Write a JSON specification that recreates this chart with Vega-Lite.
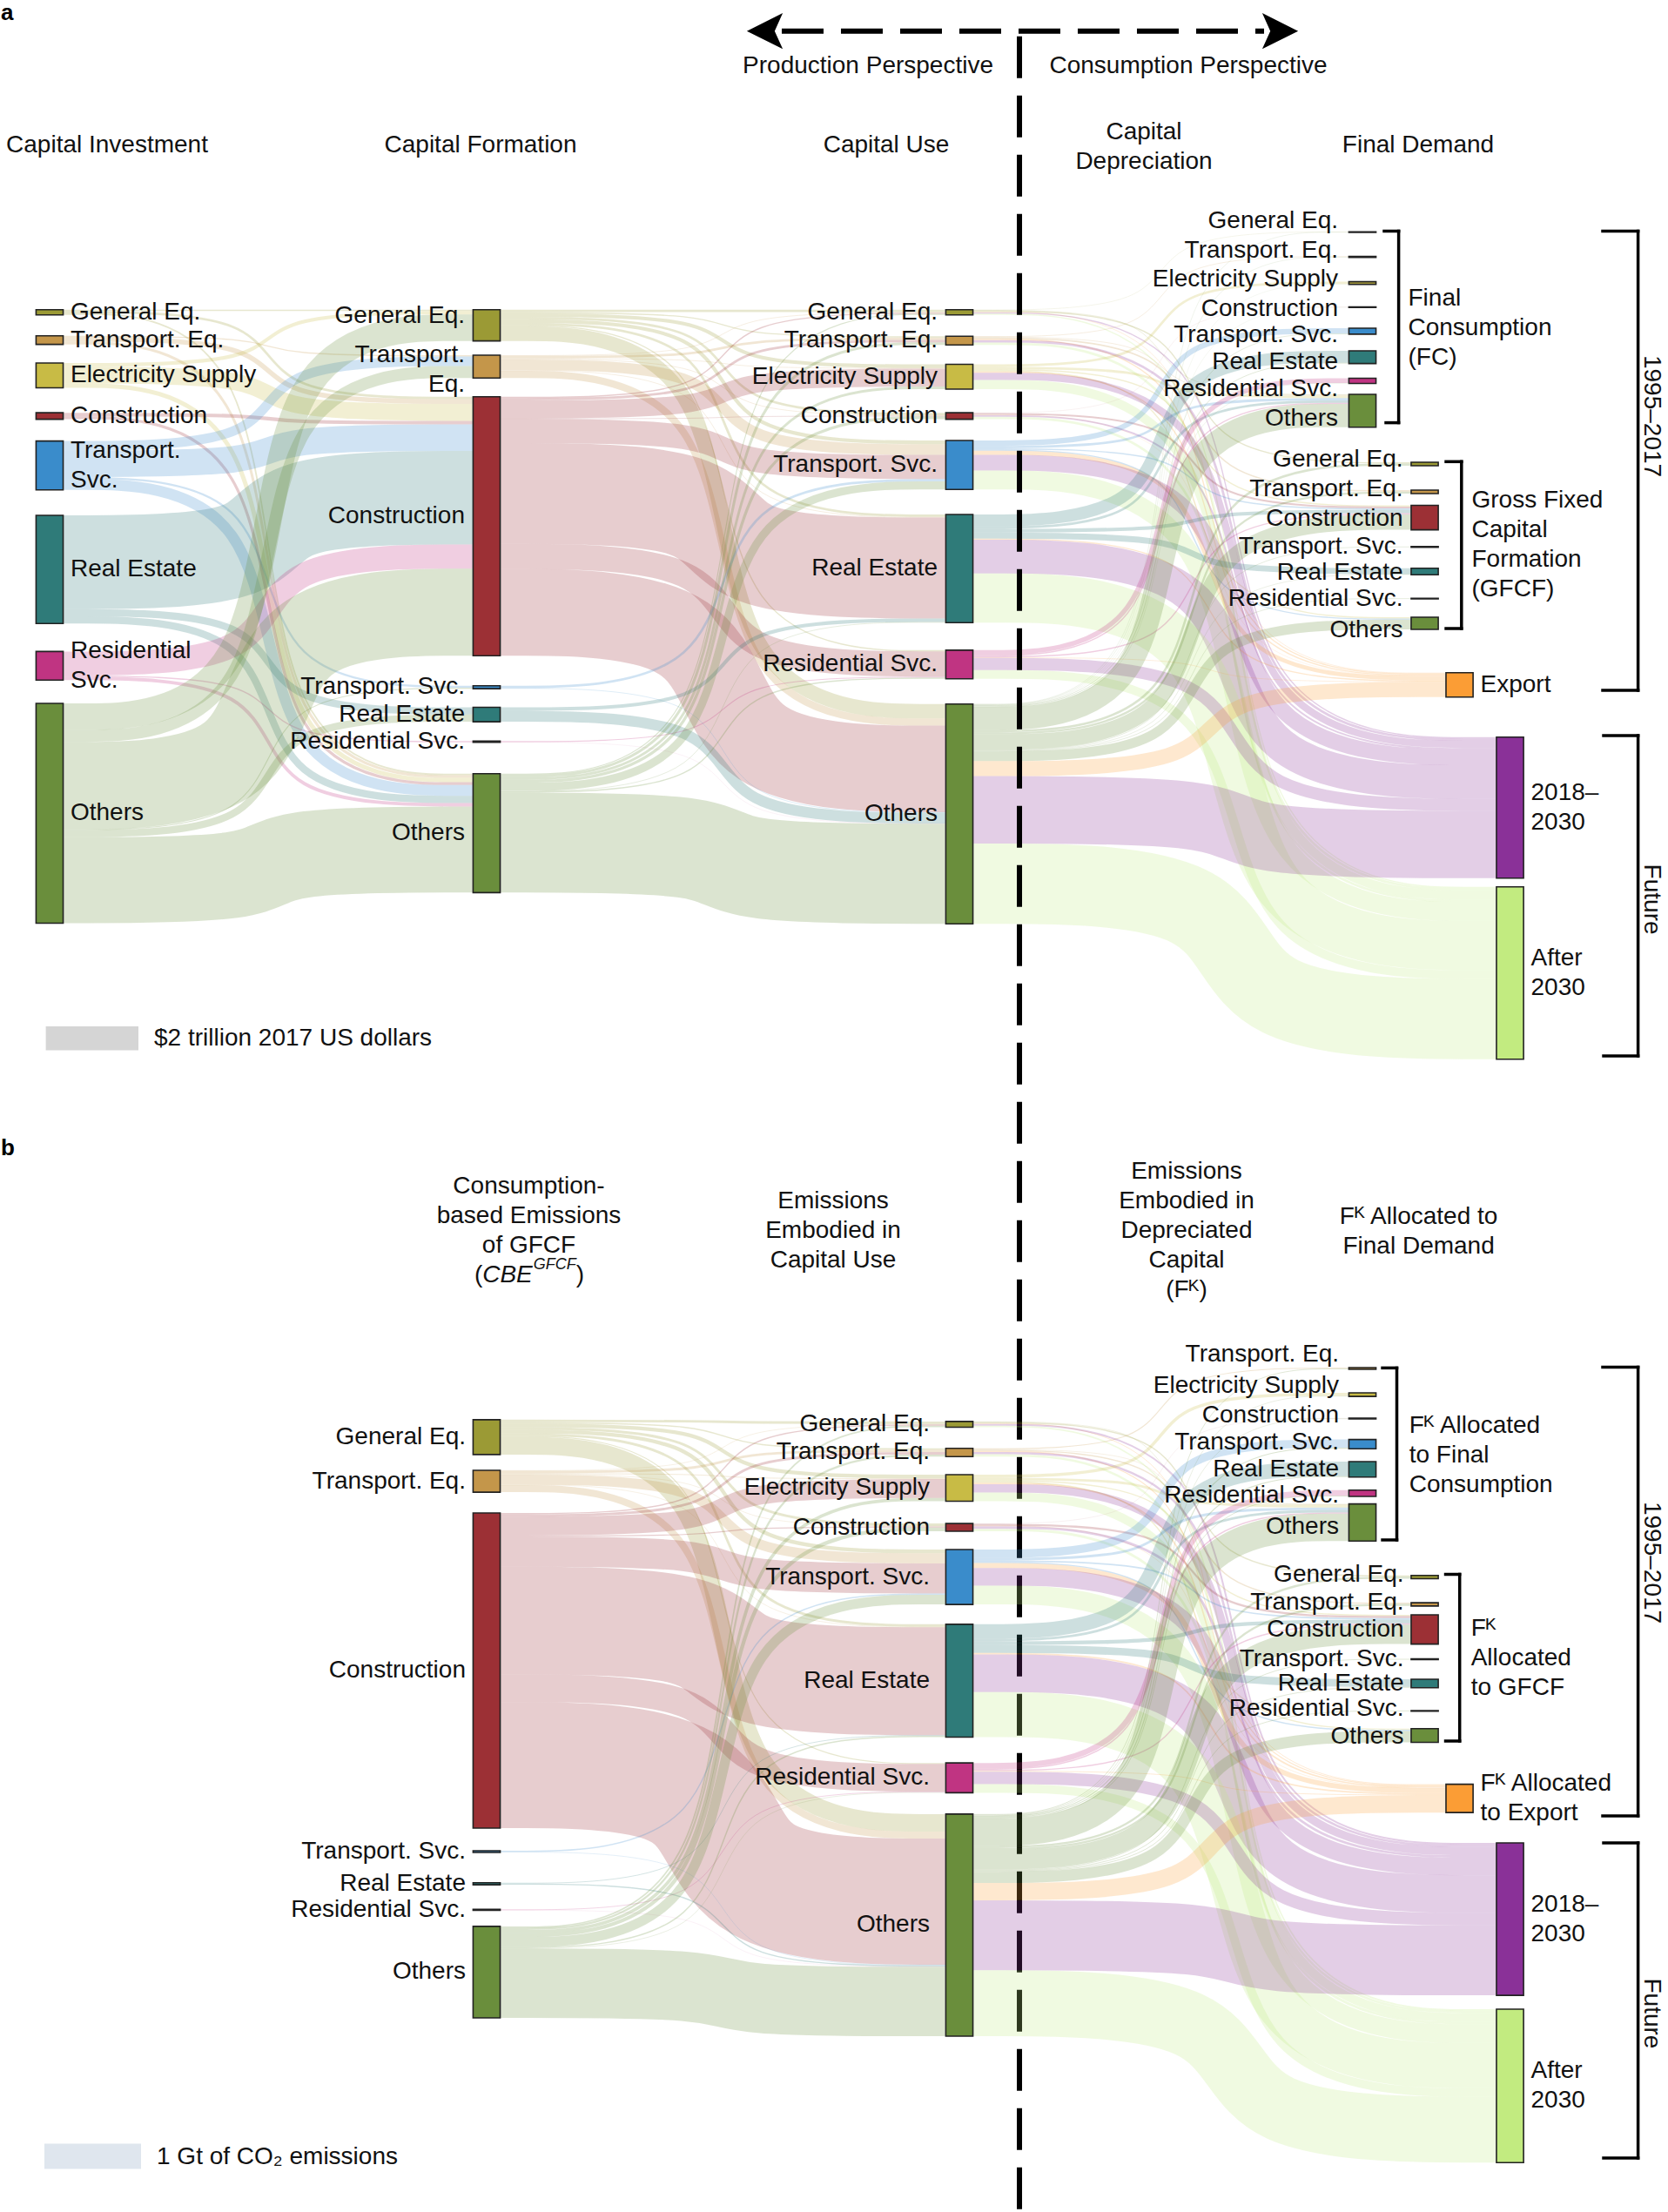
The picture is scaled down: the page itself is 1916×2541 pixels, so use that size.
{
"$schema":"https://vega.github.io/schema/vega-lite/v6.json",
"width":1916,"height":2541,"padding":0,"autosize":{"type":"none"},"background":"white",
"config":{"view":{"stroke":null},"text":{"font":"Liberation Sans","color":"#111111"}},
"datasets":{
"nodesA":[
{"id":"a1GE","col":"1","cat":"General Eq.","label":"General Eq.","x":0,"y0":25.78,"v":0.43},
{"id":"a1TE","col":"1","cat":"Transport. Eq.","label":"Transport. Eq.","x":0,"y0":27.95,"v":0.72},
{"id":"a1ES","col":"1","cat":"Electricity Supply","label":"Electricity Supply","x":0,"y0":30.22,"v":2.06},
{"id":"a1CO","col":"1","cat":"Construction","label":"Construction","x":0,"y0":34.36,"v":0.54},
{"id":"a1TS","col":"1","cat":"Transport. Svc.","label":"Transport.\nSvc.","x":0,"y0":36.71,"v":4.07},
{"id":"a1RE","col":"1","cat":"Real Estate","label":"Real Estate","x":0,"y0":42.9,"v":9.0},
{"id":"a1RS","col":"1","cat":"Residential Svc.","label":"Residential\nSvc.","x":0,"y0":54.23,"v":2.38},
{"id":"a1OT","col":"1","cat":"Others","label":"Others","x":0,"y0":58.55,"v":18.3},
{"id":"a2GE","col":"2","cat":"General Eq.","label":"General Eq.","x":1,"y0":25.78,"v":2.6,"ly":26.3},
{"id":"a2TE","col":"2","cat":"Transport. Eq.","label":"Transport.\nEq.","x":1,"y0":29.57,"v":1.9,"ly":30.8},
{"id":"a2CO","col":"2","cat":"Construction","label":"Construction","x":1,"y0":33.03,"v":21.55,"ly":42.96},
{"id":"a2TS","col":"2","cat":"Transport. Svc.","label":"Transport. Svc.","x":1,"y0":57.08,"v":0.25},
{"id":"a2RE","col":"2","cat":"Real Estate","label":"Real Estate","x":1,"y0":58.88,"v":1.2},
{"id":"a2RS","col":"2","cat":"Residential Svc.","label":"Residential Svc.","x":1,"y0":61.69,"v":0.1},
{"id":"a2OT","col":"2","cat":"Others","label":"Others","x":1,"y0":64.4,"v":9.9},
{"id":"a3GE","col":"3","cat":"General Eq.","label":"General Eq.","x":2.0817,"y0":25.78,"v":0.43},
{"id":"a3TE","col":"3","cat":"Transport. Eq.","label":"Transport. Eq.","x":2.0817,"y0":27.99,"v":0.72},
{"id":"a3ES","col":"3","cat":"Electricity Supply","label":"Electricity Supply","x":2.0817,"y0":30.33,"v":2.06},
{"id":"a3CO","col":"3","cat":"Construction","label":"Construction","x":2.0817,"y0":34.36,"v":0.54},
{"id":"a3TS","col":"3","cat":"Transport. Svc.","label":"Transport. Svc.","x":2.0817,"y0":36.67,"v":4.07},
{"id":"a3RE","col":"3","cat":"Real Estate","label":"Real Estate","x":2.0817,"y0":42.83,"v":9.0},
{"id":"a3RS","col":"3","cat":"Residential Svc.","label":"Residential Svc.","x":2.0817,"y0":54.12,"v":2.38},
{"id":"a3OT","col":"3","cat":"Others","label":"Others","x":2.0817,"y0":58.6,"v":18.3},
{"id":"a4fGE","col":"fc","cat":"General Eq.","label":"General Eq.","x":3.004,"y0":19.29,"v":0.06,"ly":18.41},
{"id":"a4fTE","col":"fc","cat":"Transport. Eq.","label":"Transport. Eq.","x":3.004,"y0":21.34,"v":0.08,"ly":20.87},
{"id":"a4fES","col":"fc","cat":"Electricity Supply","label":"Electricity Supply","x":3.004,"y0":23.45,"v":0.22,"ly":23.26},
{"id":"a4fCO","col":"fc","cat":"Construction","label":"Construction","x":3.004,"y0":25.55,"v":0.04,"ly":25.72},
{"id":"a4fTS","col":"fc","cat":"Transport. Svc.","label":"Transport. Svc.","x":3.004,"y0":27.32,"v":0.5,"ly":27.9},
{"id":"a4fRE","col":"fc","cat":"Real Estate","label":"Real Estate","x":3.004,"y0":29.2,"v":1.06,"ly":30.14},
{"id":"a4fRS","col":"fc","cat":"Residential Svc.","label":"Residential Svc.","x":3.004,"y0":31.49,"v":0.43,"ly":32.39},
{"id":"a4fOT","col":"fc","cat":"Others","label":"Others","x":3.004,"y0":32.83,"v":2.73,"ly":34.86},
{"id":"a4gGE","col":"gf","cat":"General Eq.","label":"General Eq.","x":3.1465,"y0":38.48,"v":0.29,"ly":38.26},
{"id":"a4gTE","col":"gf","cat":"Transport. Eq.","label":"Transport. Eq.","x":3.1465,"y0":40.8,"v":0.29,"ly":40.72},
{"id":"a4gCO","col":"gf","cat":"Construction","label":"Construction","x":3.1465,"y0":42.07,"v":2.03,"ly":43.19},
{"id":"a4gTS","col":"gf","cat":"Transport. Svc.","label":"Transport. Svc.","x":3.1465,"y0":45.5,"v":0.05,"ly":45.51},
{"id":"a4gRE","col":"gf","cat":"Real Estate","label":"Real Estate","x":3.1465,"y0":47.3,"v":0.54,"ly":47.68},
{"id":"a4gRS","col":"gf","cat":"Residential Svc.","label":"Residential Svc.","x":3.1465,"y0":49.8,"v":0.05,"ly":49.86},
{"id":"a4gOT","col":"gf","cat":"Others","label":"Others","x":3.1465,"y0":51.38,"v":1.01,"ly":52.46},
{"id":"a4EX","col":"ex","cat":"Export","label":"Export","x":3.2262,"y0":56.0,"v":2.03},
{"id":"a4F1","col":"fu","cat":"2018–2030","label":"2018–\n2030","x":3.3417,"y0":61.36,"v":11.74},
{"id":"a4F2","col":"fu","cat":"After 2030","label":"After\n2030","x":3.3417,"y0":73.82,"v":14.35}
],
"flowsA":[
{"s":"a1GE","t":"a2GE","v":0.1},{"s":"a1GE","t":"a2CO","v":0.2},{"s":"a1GE","t":"a2OT","v":0.13},
{"s":"a1TE","t":"a2TE","v":0.1},{"s":"a1TE","t":"a2CO","v":0.4},{"s":"a1TE","t":"a2OT","v":0.22},
{"s":"a1ES","t":"a2GE","v":0.3},{"s":"a1ES","t":"a2CO","v":1.4},{"s":"a1ES","t":"a2OT","v":0.36},
{"s":"a1CO","t":"a2CO","v":0.3},{"s":"a1CO","t":"a2OT","v":0.24},
{"s":"a1TS","t":"a2TE","v":0.8},{"s":"a1TS","t":"a2CO","v":2.2},{"s":"a1TS","t":"a2TS","v":0.17},{"s":"a1TS","t":"a2OT","v":0.9},
{"s":"a1RE","t":"a2CO","v":7.8},{"s":"a1RE","t":"a2RE","v":0.6},{"s":"a1RE","t":"a2OT","v":0.6},
{"s":"a1RS","t":"a2CO","v":2.0},{"s":"a1RS","t":"a2RS","v":0.1},{"s":"a1RS","t":"a2OT","v":0.28},
{"s":"a1OT","t":"a2GE","v":2.2},{"s":"a1OT","t":"a2TE","v":1.0},{"s":"a1OT","t":"a2CO","v":7.25},{"s":"a1OT","t":"a2TS","v":0.08},{"s":"a1OT","t":"a2RE","v":0.6},{"s":"a1OT","t":"a2OT","v":7.17},
{"s":"a2GE","t":"a3GE","v":0.2},{"s":"a2GE","t":"a3TE","v":0.1},{"s":"a2GE","t":"a3ES","v":0.3},{"s":"a2GE","t":"a3CO","v":0.2},{"s":"a2GE","t":"a3TS","v":0.3},{"s":"a2GE","t":"a3RE","v":0.2},{"s":"a2GE","t":"a3RS","v":0.1},{"s":"a2GE","t":"a3OT","v":1.2},
{"s":"a2TE","t":"a3GE","v":0.05},{"s":"a2TE","t":"a3TE","v":0.2},{"s":"a2TE","t":"a3ES","v":0.05},{"s":"a2TE","t":"a3CO","v":0.05},{"s":"a2TE","t":"a3TS","v":0.9},{"s":"a2TE","t":"a3RE","v":0.05},{"s":"a2TE","t":"a3OT","v":0.6},
{"s":"a2CO","t":"a3GE","v":0.1},{"s":"a2CO","t":"a3TE","v":0.2},{"s":"a2CO","t":"a3ES","v":1.5},{"s":"a2CO","t":"a3CO","v":0.05},{"s":"a2CO","t":"a3TS","v":2.0},{"s":"a2CO","t":"a3RE","v":8.4},{"s":"a2CO","t":"a3RS","v":2.1},{"s":"a2CO","t":"a3OT","v":7.2},
{"s":"a2TS","t":"a3TS","v":0.2},{"s":"a2TS","t":"a3OT","v":0.05},
{"s":"a2RE","t":"a3RE","v":0.3},{"s":"a2RE","t":"a3OT","v":0.9},
{"s":"a2RS","t":"a3RS","v":0.08},{"s":"a2RS","t":"a3OT","v":0.02},
{"s":"a2OT","t":"a3GE","v":0.08},{"s":"a2OT","t":"a3TE","v":0.22},{"s":"a2OT","t":"a3ES","v":0.21},{"s":"a2OT","t":"a3CO","v":0.24},{"s":"a2OT","t":"a3TS","v":0.67},{"s":"a2OT","t":"a3RE","v":0.05},{"s":"a2OT","t":"a3RS","v":0.1},{"s":"a2OT","t":"a3OT","v":8.33},
{"s":"a3GE","t":"a4fGE","v":0.03},{"s":"a3GE","t":"a4gGE","v":0.1},{"s":"a3GE","t":"a4fOT","v":0.05},{"s":"a3GE","t":"a4EX","v":0.05},{"s":"a3GE","t":"a4F1","v":0.1},{"s":"a3GE","t":"a4F2","v":0.1},
{"s":"a3TE","t":"a4fTE","v":0.05},{"s":"a3TE","t":"a4gTE","v":0.12},{"s":"a3TE","t":"a4fOT","v":0.05},{"s":"a3TE","t":"a4EX","v":0.1},{"s":"a3TE","t":"a4F1","v":0.2},{"s":"a3TE","t":"a4F2","v":0.2},
{"s":"a3ES","t":"a4fES","v":0.2},{"s":"a3ES","t":"a4fOT","v":0.2},{"s":"a3ES","t":"a4gOT","v":0.1},{"s":"a3ES","t":"a4EX","v":0.1},{"s":"a3ES","t":"a4gCO","v":0.1},{"s":"a3ES","t":"a4F1","v":0.6},{"s":"a3ES","t":"a4F2","v":0.76},
{"s":"a3CO","t":"a4gCO","v":0.15},{"s":"a3CO","t":"a4fCO","v":0.02},{"s":"a3CO","t":"a4EX","v":0.03},{"s":"a3CO","t":"a4F1","v":0.14},{"s":"a3CO","t":"a4F2","v":0.2},
{"s":"a3TS","t":"a4fTS","v":0.45},{"s":"a3TS","t":"a4fOT","v":0.2},{"s":"a3TS","t":"a4gOT","v":0.1},{"s":"a3TS","t":"a4EX","v":0.35},{"s":"a3TS","t":"a4gCO","v":0.1},{"s":"a3TS","t":"a4F1","v":1.3},{"s":"a3TS","t":"a4F2","v":1.57},
{"s":"a3RE","t":"a4fRE","v":1.0},{"s":"a3RE","t":"a4fOT","v":0.2},{"s":"a3RE","t":"a4gRE","v":0.5},{"s":"a3RE","t":"a4gCO","v":0.3},{"s":"a3RE","t":"a4EX","v":0.1},{"s":"a3RE","t":"a4F1","v":2.8},{"s":"a3RE","t":"a4F2","v":4.1},
{"s":"a3RS","t":"a4fRS","v":0.4},{"s":"a3RS","t":"a4fOT","v":0.1},{"s":"a3RS","t":"a4gCO","v":0.1},{"s":"a3RS","t":"a4EX","v":0.05},{"s":"a3RS","t":"a4F1","v":1.0},{"s":"a3RS","t":"a4F2","v":0.73},
{"s":"a3OT","t":"a4fGE","v":0.03},{"s":"a3OT","t":"a4fTE","v":0.03},{"s":"a3OT","t":"a4fES","v":0.02},{"s":"a3OT","t":"a4fCO","v":0.02},{"s":"a3OT","t":"a4fTS","v":0.05},{"s":"a3OT","t":"a4fRE","v":0.06},{"s":"a3OT","t":"a4fRS","v":0.03},{"s":"a3OT","t":"a4fOT","v":1.93},
{"s":"a3OT","t":"a4gGE","v":0.19},{"s":"a3OT","t":"a4gTE","v":0.17},{"s":"a3OT","t":"a4gCO","v":1.28},{"s":"a3OT","t":"a4gTS","v":0.05},{"s":"a3OT","t":"a4gRE","v":0.04},{"s":"a3OT","t":"a4gRS","v":0.05},{"s":"a3OT","t":"a4gOT","v":0.81},
{"s":"a3OT","t":"a4EX","v":1.25},{"s":"a3OT","t":"a4F1","v":5.6},{"s":"a3OT","t":"a4F2","v":6.69}
],
"nodesB":[
{"id":"b2GE","col":"2","cat":"General Eq.","label":"General Eq.","x":1,"y0":12.53,"v":1.39},
{"id":"b2TE","col":"2","cat":"Transport. Eq.","label":"Transport. Eq.","x":1,"y0":14.55,"v":0.87},
{"id":"b2CO","col":"2","cat":"Construction","label":"Construction","x":1,"y0":16.25,"v":12.57},
{"id":"b2TS","col":"2","cat":"Transport. Svc.","label":"Transport. Svc.","x":1,"y0":29.72,"v":0.07},
{"id":"b2RE","col":"2","cat":"Real Estate","label":"Real Estate","x":1,"y0":31.0,"v":0.08},
{"id":"b2RS","col":"2","cat":"Residential Svc.","label":"Residential Svc.","x":1,"y0":32.06,"v":0.04},
{"id":"b2OT","col":"2","cat":"Others","label":"Others","x":1,"y0":32.74,"v":3.65},
{"id":"b3GE","col":"3","cat":"General Eq.","label":"General Eq.","x":2.0817,"y0":12.6,"v":0.23},
{"id":"b3TE","col":"3","cat":"Transport. Eq.","label":"Transport. Eq.","x":2.0817,"y0":13.67,"v":0.33},
{"id":"b3ES","col":"3","cat":"Electricity Supply","label":"Electricity Supply","x":2.0817,"y0":14.72,"v":1.06},
{"id":"b3CO","col":"3","cat":"Construction","label":"Construction","x":2.0817,"y0":16.67,"v":0.31},
{"id":"b3TS","col":"3","cat":"Transport. Svc.","label":"Transport. Svc.","x":2.0817,"y0":17.71,"v":2.19},
{"id":"b3RE","col":"3","cat":"Real Estate","label":"Real Estate","x":2.0817,"y0":20.69,"v":4.5},
{"id":"b3RS","col":"3","cat":"Residential Svc.","label":"Residential Svc.","x":2.0817,"y0":26.22,"v":1.19},
{"id":"b3OT","col":"3","cat":"Others","label":"Others","x":2.0817,"y0":28.26,"v":8.86},
{"id":"b4fTE","col":"fc","cat":"Transport. Eq.","label":"Transport. Eq.","x":3.004,"y0":10.45,"v":0.07,"ly":9.93},
{"id":"b4fES","col":"fc","cat":"Electricity Supply","label":"Electricity Supply","x":3.004,"y0":11.46,"v":0.14,"ly":11.18},
{"id":"b4fCO","col":"fc","cat":"Construction","label":"Construction","x":3.004,"y0":12.47,"v":0.03,"ly":12.36},
{"id":"b4fTS","col":"fc","cat":"Transport. Svc.","label":"Transport. Svc.","x":3.004,"y0":13.32,"v":0.37,"ly":13.44},
{"id":"b4fRE","col":"fc","cat":"Real Estate","label":"Real Estate","x":3.004,"y0":14.2,"v":0.62,"ly":14.51},
{"id":"b4fRS","col":"fc","cat":"Residential Svc.","label":"Residential Svc.","x":3.004,"y0":15.34,"v":0.25,"ly":15.56},
{"id":"b4fOT","col":"fc","cat":"Others","label":"Others","x":3.004,"y0":15.89,"v":1.48,"ly":16.81},
{"id":"b4gGE","col":"gf","cat":"General Eq.","label":"General Eq.","x":3.1465,"y0":18.74,"v":0.13,"ly":18.72},
{"id":"b4gTE","col":"gf","cat":"Transport. Eq.","label":"Transport. Eq.","x":3.1465,"y0":19.83,"v":0.13,"ly":19.84},
{"id":"b4gCO","col":"gf","cat":"Construction","label":"Construction","x":3.1465,"y0":20.31,"v":1.17,"ly":20.9},
{"id":"b4gTS","col":"gf","cat":"Transport. Svc.","label":"Transport. Svc.","x":3.1465,"y0":22.07,"v":0.03,"ly":22.08},
{"id":"b4gRE","col":"gf","cat":"Real Estate","label":"Real Estate","x":3.1465,"y0":22.88,"v":0.34,"ly":23.06},
{"id":"b4gRS","col":"gf","cat":"Residential Svc.","label":"Residential Svc.","x":3.1465,"y0":24.13,"v":0.03,"ly":24.06},
{"id":"b4gOT","col":"gf","cat":"Others","label":"Others","x":3.1465,"y0":24.85,"v":0.55,"ly":25.17},
{"id":"b4EX","col":"ex","cat":"Export","label":"Fᴷ Allocated\nto Export","x":3.2262,"y0":27.07,"v":1.13},
{"id":"b4F1","col":"fu","cat":"2018–2030","label":"2018–\n2030","x":3.3417,"y0":29.41,"v":6.08},
{"id":"b4F2","col":"fu","cat":"After 2030","label":"After\n2030","x":3.3417,"y0":36.04,"v":6.12}
],
"flowsB":[
{"s":"b2GE","t":"b3GE","v":0.1},{"s":"b2GE","t":"b3TE","v":0.05},{"s":"b2GE","t":"b3ES","v":0.15},{"s":"b2GE","t":"b3CO","v":0.1},{"s":"b2GE","t":"b3TS","v":0.15},{"s":"b2GE","t":"b3RE","v":0.1},{"s":"b2GE","t":"b3RS","v":0.04},{"s":"b2GE","t":"b3OT","v":0.7},
{"s":"b2TE","t":"b3GE","v":0.02},{"s":"b2TE","t":"b3TE","v":0.1},{"s":"b2TE","t":"b3ES","v":0.03},{"s":"b2TE","t":"b3CO","v":0.02},{"s":"b2TE","t":"b3TS","v":0.4},{"s":"b2TE","t":"b3RE","v":0.02},{"s":"b2TE","t":"b3OT","v":0.28},
{"s":"b2CO","t":"b3GE","v":0.05},{"s":"b2CO","t":"b3TE","v":0.1},{"s":"b2CO","t":"b3ES","v":0.75},{"s":"b2CO","t":"b3CO","v":0.04},{"s":"b2CO","t":"b3TS","v":1.2},{"s":"b2CO","t":"b3RE","v":4.3},{"s":"b2CO","t":"b3RS","v":1.1},{"s":"b2CO","t":"b3OT","v":5.03},
{"s":"b2TS","t":"b3TS","v":0.05},{"s":"b2TS","t":"b3OT","v":0.02},
{"s":"b2RE","t":"b3RE","v":0.03},{"s":"b2RE","t":"b3OT","v":0.05},
{"s":"b2RS","t":"b3RS","v":0.03},{"s":"b2RS","t":"b3OT","v":0.01},
{"s":"b2OT","t":"b3GE","v":0.06},{"s":"b2OT","t":"b3TE","v":0.08},{"s":"b2OT","t":"b3ES","v":0.13},{"s":"b2OT","t":"b3CO","v":0.15},{"s":"b2OT","t":"b3TS","v":0.39},{"s":"b2OT","t":"b3RE","v":0.05},{"s":"b2OT","t":"b3RS","v":0.02},{"s":"b2OT","t":"b3OT","v":2.77},
{"s":"b3GE","t":"b4gGE","v":0.05},{"s":"b3GE","t":"b4fOT","v":0.02},{"s":"b3GE","t":"b4EX","v":0.03},{"s":"b3GE","t":"b4F1","v":0.07},{"s":"b3GE","t":"b4F2","v":0.06},
{"s":"b3TE","t":"b4fTE","v":0.04},{"s":"b3TE","t":"b4gTE","v":0.05},{"s":"b3TE","t":"b4fOT","v":0.02},{"s":"b3TE","t":"b4EX","v":0.04},{"s":"b3TE","t":"b4F1","v":0.09},{"s":"b3TE","t":"b4F2","v":0.09},
{"s":"b3ES","t":"b4fES","v":0.12},{"s":"b3ES","t":"b4fOT","v":0.1},{"s":"b3ES","t":"b4gOT","v":0.05},{"s":"b3ES","t":"b4gCO","v":0.05},{"s":"b3ES","t":"b4EX","v":0.06},{"s":"b3ES","t":"b4F1","v":0.33},{"s":"b3ES","t":"b4F2","v":0.35},
{"s":"b3CO","t":"b4gCO","v":0.08},{"s":"b3CO","t":"b4fCO","v":0.01},{"s":"b3CO","t":"b4EX","v":0.02},{"s":"b3CO","t":"b4F1","v":0.1},{"s":"b3CO","t":"b4F2","v":0.1},
{"s":"b3TS","t":"b4fTS","v":0.33},{"s":"b3TS","t":"b4fOT","v":0.1},{"s":"b3TS","t":"b4gOT","v":0.05},{"s":"b3TS","t":"b4gCO","v":0.06},{"s":"b3TS","t":"b4EX","v":0.2},{"s":"b3TS","t":"b4F1","v":0.7},{"s":"b3TS","t":"b4F2","v":0.75},
{"s":"b3RE","t":"b4fRE","v":0.58},{"s":"b3RE","t":"b4fOT","v":0.1},{"s":"b3RE","t":"b4gRE","v":0.31},{"s":"b3RE","t":"b4gCO","v":0.15},{"s":"b3RE","t":"b4EX","v":0.06},{"s":"b3RE","t":"b4F1","v":1.5},{"s":"b3RE","t":"b4F2","v":1.8},
{"s":"b3RS","t":"b4fRS","v":0.22},{"s":"b3RS","t":"b4fOT","v":0.05},{"s":"b3RS","t":"b4gCO","v":0.05},{"s":"b3RS","t":"b4EX","v":0.03},{"s":"b3RS","t":"b4F1","v":0.5},{"s":"b3RS","t":"b4F2","v":0.34},
{"s":"b3OT","t":"b4fTE","v":0.03},{"s":"b3OT","t":"b4fES","v":0.02},{"s":"b3OT","t":"b4fCO","v":0.02},{"s":"b3OT","t":"b4fTS","v":0.04},{"s":"b3OT","t":"b4fRE","v":0.04},{"s":"b3OT","t":"b4fRS","v":0.03},{"s":"b3OT","t":"b4fOT","v":1.09},
{"s":"b3OT","t":"b4gGE","v":0.08},{"s":"b3OT","t":"b4gTE","v":0.08},{"s":"b3OT","t":"b4gCO","v":0.78},{"s":"b3OT","t":"b4gTS","v":0.03},{"s":"b3OT","t":"b4gRE","v":0.03},{"s":"b3OT","t":"b4gRS","v":0.03},{"s":"b3OT","t":"b4gOT","v":0.45},
{"s":"b3OT","t":"b4EX","v":0.69},{"s":"b3OT","t":"b4F1","v":2.79},{"s":"b3OT","t":"b4F2","v":2.63}
],
"annA":[
{"t":"Capital Investment","x":0.1315,"y":12.1,"k":"c"},
{"t":"Capital Formation","x":0.9861,"y":12.1,"k":"c"},
{"t":"Capital Use","x":1.9144,"y":12.1,"k":"c"},
{"t":"Capital\nDepreciation","x":2.504,"y":11.01,"k":"c"},
{"t":"Final Demand","x":3.1315,"y":12.1,"k":"c"},
{"t":"Production Perspective","x":1.8726,"y":5.507,"k":"c"},
{"t":"Consumption Perspective","x":2.6056,"y":5.507,"k":"c"},
{"t":"Final\nConsumption\n(FC)","x":3.1086,"y":24.82,"k":"l"},
{"t":"Gross Fixed\nCapital\nFormation\n(GFCF)","x":3.254,"y":41.67,"k":"l"},
{"t":"$2 trillion 2017 US dollars","x":0.2391,"y":86.45,"k":"l"},
{"t":"1995–2017","x":3.6655,"y":34.64,"k":"rot"},
{"t":"Future","x":3.6655,"y":74.86,"k":"rot"},
{"t":"a","x":-0.1115,"y":1.667,"k":"b"}
],
"annB":[
{"t":"Consumption-\nbased Emissions\nof GFCF","x":1.0967,"y":3.229,"k":"c"},
{"t":"(","x":0.972,"y":6.771,"k":"l"},
{"t":"CBE","x":0.9905,"y":6.771,"k":"li"},
{"t":"GFCF","x":1.1072,"y":6.354,"k":"sup"},
{"t":")","x":1.2048,"y":6.771,"k":"l"},
{"t":"Emissions\nEmbodied in\nCapital Use","x":1.7929,"y":3.819,"k":"c"},
{"t":"Emissions\nEmbodied in\nDepreciated\nCapital\n(Fᴷ)","x":2.6016,"y":2.639,"k":"c"},
{"t":"Fᴷ Allocated to\nFinal Demand","x":3.1327,"y":4.444,"k":"c"},
{"t":"Fᴷ Allocated\nto Final\nConsumption","x":3.111,"y":12.771,"k":"l"},
{"t":"Fᴷ\nAllocated\nto GFCF","x":3.2524,"y":20.868,"k":"l"},
{"t":"1 Gt of CO₂ emissions","x":0.2451,"y":41.93,"k":"l"},
{"t":"1995–2017","x":3.6655,"y":18.23,"k":"rot"},
{"t":"Future","x":3.6655,"y":36.215,"k":"rot"},
{"t":"b","x":-0.1115,"y":1.979,"k":"b"}
],
"brA":[
{"x":3.0869,"x2":3.0869,"y":19.239,"y2":35.188},{"x":3.0538,"x2":3.0869,"y":19.239,"y2":19.239},{"x":3.0578,"x2":3.0869,"y":35.188,"y2":35.188},
{"x":3.2307,"x2":3.2307,"y":38.428,"y2":52.319},{"x":3.1953,"x2":3.2307,"y":38.428,"y2":38.428},{"x":3.1953,"x2":3.2307,"y":52.319,"y2":52.319},
{"x":3.6347,"x2":3.6347,"y":19.239,"y2":57.464},{"x":3.5538,"x2":3.6347,"y":19.239,"y2":19.239},{"x":3.5538,"x2":3.6347,"y":57.464,"y2":57.464},
{"x":3.6347,"x2":3.6347,"y":61.232,"y2":87.899},{"x":3.5558,"x2":3.6347,"y":61.232,"y2":61.232},{"x":3.5558,"x2":3.6347,"y":87.899,"y2":87.899}
],
"brB":[
{"x":3.0827,"x2":3.0827,"y":10.465,"y2":17.326},{"x":3.0499,"x2":3.0827,"y":10.465,"y2":10.465},{"x":3.0499,"x2":3.0827,"y":17.326,"y2":17.326},
{"x":3.2265,"x2":3.2265,"y":18.698,"y2":25.347},{"x":3.1943,"x2":3.2265,"y":18.698,"y2":18.698},{"x":3.1943,"x2":3.2265,"y":25.347,"y2":25.347},
{"x":3.6347,"x2":3.6347,"y":10.438,"y2":28.333},{"x":3.5538,"x2":3.6347,"y":10.438,"y2":10.438},{"x":3.5538,"x2":3.6347,"y":28.333,"y2":28.333},
{"x":3.6347,"x2":3.6347,"y":29.41,"y2":41.979},{"x":3.5558,"x2":3.6347,"y":29.41,"y2":29.41},{"x":3.5558,"x2":3.6347,"y":41.979,"y2":41.979}
],
"dashA":[{"x":2.2192,"x2":2.2192,"y":3.022,"y2":184.13},{"x":1.6753,"x2":2.7789,"y":2.587,"y2":2.587}],
"arrowA":[{"x":1.6365,"y":2.587,"d":"l"},{"x":2.8158,"y":2.587,"d":"r"}],
"legA":[{"x":-0.0087,"x2":0.2032,"y":85.43,"y2":87.43}],
"legB":[{"x":-0.0119,"x2":0.2092,"y":41.41,"y2":42.41}]
},
"resolve":{"scale":{"y":"independent","size":"independent"}},
"layer":[
{"layer":[
{"data":{"name":"flowsA"},
"transform":[
{"lookup":"s","from":{"data":{"name":"nodesA"},"key":"id","fields":["x","y0","cat"]},"as":["sx","sy","sc"]},
{"lookup":"t","from":{"data":{"name":"nodesA"},"key":"id","fields":["x","y0","cat"]},"as":["tx","ty","tc"]},
{"stack":"v","groupby":["s"],"sort":[{"field":"ty","order":"ascending"}],"as":["a0","a1"]},
{"stack":"v","groupby":["t"],"sort":[{"field":"sy","order":"ascending"}],"as":["b0","b1"]},
{"calculate":"datum.sy+(datum.a0+datum.a1)/2","as":"ys"},
{"calculate":"datum.ty+(datum.b0+datum.b1)/2","as":"yt"},
{"calculate":"indexof(['Export','2018–2030','After 2030'],datum.tc)>=0?datum.tc:datum.sc","as":"ck"},
{"calculate":"[datum.sx,(datum.sx+datum.tx)/2,(datum.sx+datum.tx)/2,datum.tx]","as":"px"},
{"calculate":"[datum.ys,datum.ys,datum.yt,datum.yt]","as":"py"},
{"calculate":"[0,1,2,3]","as":"pi"},
{"flatten":["px","py","pi"]}
],
"mark":{"type":"line","interpolate":"basis","opacity":0.24,"strokeCap":"butt"},
"encoding":{
"x":{"field":"px","type":"quantitative","scale":{"domain":[-0.1135,3.7032],"nice":false,"zero":false},"axis":null},
"y":{"field":"py","type":"quantitative","scale":{"domain":[0,184.13],"reverse":true,"nice":false,"zero":false},"axis":null},
"detail":[{"field":"s"},{"field":"t"}],
"order":{"field":"pi","type":"quantitative"},
"color":{"field":"ck","type":"nominal","scale":{"domain":["General Eq.","Transport. Eq.","Electricity Supply","Construction","Transport. Svc.","Real Estate","Residential Svc.","Others","Export","2018–2030","After 2030"],"range":["#9b9a35","#c4964a","#c8bb45","#9c3035","#3a8ccb","#2f7b79","#c03482","#6a8e3c","#fb9d35","#8a3198","#c2eb80"]},"legend":null},
"size":{"field":"v","type":"quantitative","scale":{"domain":[0,20],"range":[0,276]},"legend":null}
}},
{"data":{"name":"dashA"},"mark":{"type":"rule","color":"#000000","strokeWidth":6,"strokeDash":[48,20]},
"encoding":{
"x":{"field":"x","type":"quantitative","scale":{"domain":[-0.1135,3.7032],"nice":false,"zero":false},"axis":null},
"x2":{"field":"x2"},
"y":{"field":"y","type":"quantitative","scale":{"domain":[0,184.13],"reverse":true,"nice":false,"zero":false},"axis":null},
"y2":{"field":"y2"}}},
{"data":{"name":"arrowA"},"mark":{"type":"point","filled":true,"color":"#000000","opacity":1,"size":1700},
"encoding":{
"x":{"field":"x","type":"quantitative","scale":{"domain":[-0.1135,3.7032],"nice":false,"zero":false},"axis":null},
"y":{"field":"y","type":"quantitative","scale":{"domain":[0,184.13],"reverse":true,"nice":false,"zero":false},"axis":null},
"shape":{"field":"d","type":"nominal","scale":{"domain":["l","r"],"range":["M -1 0 L 1 -1 L 0.55 0 L 1 1 Z","M 1 0 L -1 -1 L -0.55 0 L -1 1 Z"]},"legend":null}}},
{"data":{"name":"nodesA"},
"transform":[{"calculate":"datum.y0+datum.v","as":"y1"},{"calculate":"datum.x-0.031","as":"xa"},{"calculate":"datum.x+0.031","as":"xb"}],
"mark":{"type":"rect","stroke":"#222222","strokeWidth":1.6,"opacity":1},
"encoding":{
"x":{"field":"xa","type":"quantitative","scale":{"domain":[-0.1135,3.7032],"nice":false,"zero":false},"axis":null},
"x2":{"field":"xb"},
"y":{"field":"y0","type":"quantitative","scale":{"domain":[0,184.13],"reverse":true,"nice":false,"zero":false},"axis":null},
"y2":{"field":"y1"},
"color":{"field":"cat","type":"nominal","scale":{"domain":["General Eq.","Transport. Eq.","Electricity Supply","Construction","Transport. Svc.","Real Estate","Residential Svc.","Others","Export","2018–2030","After 2030"],"range":["#9b9a35","#c4964a","#c8bb45","#9c3035","#3a8ccb","#2f7b79","#c03482","#6a8e3c","#fb9d35","#8a3198","#c2eb80"]},"legend":null}}},
{"data":{"name":"nodesA"},
"transform":[{"filter":"datum.col=='1' || datum.col=='ex' || datum.col=='fu'"},{"calculate":"datum.y0+datum.v/2-(length(split(datum.label,'\\n'))-1)*17/13.8","as":"ym"}],
"mark":{"type":"text","align":"left","baseline":"middle","dx":24,"fontSize":28,"lineBreak":"\n","lineHeight":34,"font":"Liberation Sans","color":"#111111"},
"encoding":{
"x":{"field":"x","type":"quantitative","scale":{"domain":[-0.1135,3.7032],"nice":false,"zero":false},"axis":null},
"y":{"field":"ym","type":"quantitative","scale":{"domain":[0,184.13],"reverse":true,"nice":false,"zero":false},"axis":null},
"text":{"field":"label"}}},
{"data":{"name":"nodesA"},
"transform":[{"filter":"datum.col=='2' || datum.col=='3' || datum.col=='gf'"},{"calculate":"(isValid(datum.ly)?datum.ly:datum.y0+datum.v/2)-(length(split(datum.label,'\\n'))-1)*17/13.8","as":"ym"}],
"mark":{"type":"text","align":"right","baseline":"middle","dx":-25,"fontSize":28,"lineBreak":"\n","lineHeight":34,"font":"Liberation Sans","color":"#111111"},
"encoding":{
"x":{"field":"x","type":"quantitative","scale":{"domain":[-0.1135,3.7032],"nice":false,"zero":false},"axis":null},
"y":{"field":"ym","type":"quantitative","scale":{"domain":[0,184.13],"reverse":true,"nice":false,"zero":false},"axis":null},
"text":{"field":"label"}}},
{"data":{"name":"nodesA"},
"transform":[{"filter":"datum.col=='fc'"},{"calculate":"isValid(datum.ly)?datum.ly:datum.y0+datum.v/2","as":"ym"}],
"mark":{"type":"text","align":"right","baseline":"middle","dx":-28,"fontSize":28,"lineBreak":"\n","lineHeight":34,"font":"Liberation Sans","color":"#111111"},
"encoding":{
"x":{"field":"x","type":"quantitative","scale":{"domain":[-0.1135,3.7032],"nice":false,"zero":false},"axis":null},
"y":{"field":"ym","type":"quantitative","scale":{"domain":[0,184.13],"reverse":true,"nice":false,"zero":false},"axis":null},
"text":{"field":"label"}}},
{"data":{"name":"annA"},"transform":[{"filter":"datum.k=='c'"}],
"mark":{"type":"text","align":"center","baseline":"middle","fontSize":28,"lineBreak":"\n","lineHeight":34,"font":"Liberation Sans","color":"#111111"},
"encoding":{
"x":{"field":"x","type":"quantitative","scale":{"domain":[-0.1135,3.7032],"nice":false,"zero":false},"axis":null},
"y":{"field":"y","type":"quantitative","scale":{"domain":[0,184.13],"reverse":true,"nice":false,"zero":false},"axis":null},
"text":{"field":"t"}}},
{"data":{"name":"annA"},"transform":[{"filter":"datum.k=='l'"}],
"mark":{"type":"text","align":"left","baseline":"middle","fontSize":28,"lineBreak":"\n","lineHeight":34,"font":"Liberation Sans","color":"#111111"},
"encoding":{
"x":{"field":"x","type":"quantitative","scale":{"domain":[-0.1135,3.7032],"nice":false,"zero":false},"axis":null},
"y":{"field":"y","type":"quantitative","scale":{"domain":[0,184.13],"reverse":true,"nice":false,"zero":false},"axis":null},
"text":{"field":"t"}}},
{"data":{"name":"annA"},"transform":[{"filter":"datum.k=='rot'"}],
"mark":{"type":"text","align":"center","baseline":"middle","angle":90,"fontSize":28,"font":"Liberation Sans","color":"#111111"},
"encoding":{
"x":{"field":"x","type":"quantitative","scale":{"domain":[-0.1135,3.7032],"nice":false,"zero":false},"axis":null},
"y":{"field":"y","type":"quantitative","scale":{"domain":[0,184.13],"reverse":true,"nice":false,"zero":false},"axis":null},
"text":{"field":"t"}}},
{"data":{"name":"annA"},"transform":[{"filter":"datum.k=='b'"}],
"mark":{"type":"text","align":"left","baseline":"alphabetic","fontSize":26,"fontWeight":"bold","font":"Liberation Sans","color":"#000000"},
"encoding":{
"x":{"field":"x","type":"quantitative","scale":{"domain":[-0.1135,3.7032],"nice":false,"zero":false},"axis":null},
"y":{"field":"y","type":"quantitative","scale":{"domain":[0,184.13],"reverse":true,"nice":false,"zero":false},"axis":null},
"text":{"field":"t"}}},
{"data":{"name":"brA"},"mark":{"type":"rule","color":"#000000","strokeWidth":3.5,"strokeCap":"square"},
"encoding":{
"x":{"field":"x","type":"quantitative","scale":{"domain":[-0.1135,3.7032],"nice":false,"zero":false},"axis":null},
"x2":{"field":"x2"},
"y":{"field":"y","type":"quantitative","scale":{"domain":[0,184.13],"reverse":true,"nice":false,"zero":false},"axis":null},
"y2":{"field":"y2"}}},
{"data":{"name":"legA"},"mark":{"type":"rect","color":"#d5d5d5"},
"encoding":{
"x":{"field":"x","type":"quantitative","scale":{"domain":[-0.1135,3.7032],"nice":false,"zero":false},"axis":null},
"x2":{"field":"x2"},
"y":{"field":"y","type":"quantitative","scale":{"domain":[0,184.13],"reverse":true,"nice":false,"zero":false},"axis":null},
"y2":{"field":"y2"}}}
]},
{"layer":[
{"data":{"name":"flowsB"},
"transform":[
{"lookup":"s","from":{"data":{"name":"nodesB"},"key":"id","fields":["x","y0","cat"]},"as":["sx","sy","sc"]},
{"lookup":"t","from":{"data":{"name":"nodesB"},"key":"id","fields":["x","y0","cat"]},"as":["tx","ty","tc"]},
{"stack":"v","groupby":["s"],"sort":[{"field":"ty","order":"ascending"}],"as":["a0","a1"]},
{"stack":"v","groupby":["t"],"sort":[{"field":"sy","order":"ascending"}],"as":["b0","b1"]},
{"calculate":"datum.sy+(datum.a0+datum.a1)/2","as":"ys"},
{"calculate":"datum.ty+(datum.b0+datum.b1)/2","as":"yt"},
{"calculate":"indexof(['Export','2018–2030','After 2030'],datum.tc)>=0?datum.tc:datum.sc","as":"ck"},
{"calculate":"[datum.sx,(datum.sx+datum.tx)/2,(datum.sx+datum.tx)/2,datum.tx]","as":"px"},
{"calculate":"[datum.ys,datum.ys,datum.yt,datum.yt]","as":"py"},
{"calculate":"[0,1,2,3]","as":"pi"},
{"flatten":["px","py","pi"]}
],
"mark":{"type":"line","interpolate":"basis","opacity":0.24,"strokeCap":"butt"},
"encoding":{
"x":{"field":"px","type":"quantitative","scale":{"domain":[-0.1135,3.7032],"nice":false,"zero":false},"axis":null},
"y":{"field":"py","type":"quantitative","scale":{"domain":[-44.097,44.132],"reverse":true,"nice":false,"zero":false},"axis":null},
"detail":[{"field":"s"},{"field":"t"}],
"order":{"field":"pi","type":"quantitative"},
"color":{"field":"ck","type":"nominal","scale":{"domain":["General Eq.","Transport. Eq.","Electricity Supply","Construction","Transport. Svc.","Real Estate","Residential Svc.","Others","Export","2018–2030","After 2030"],"range":["#9b9a35","#c4964a","#c8bb45","#9c3035","#3a8ccb","#2f7b79","#c03482","#6a8e3c","#fb9d35","#8a3198","#c2eb80"]},"legend":null},
"size":{"field":"v","type":"quantitative","scale":{"domain":[0,20],"range":[0,576]},"legend":null}
}},
{"data":{"name":"nodesB"},
"transform":[{"calculate":"datum.y0+datum.v","as":"y1"},{"calculate":"datum.x-0.031","as":"xa"},{"calculate":"datum.x+0.031","as":"xb"}],
"mark":{"type":"rect","stroke":"#222222","strokeWidth":1.6,"opacity":1},
"encoding":{
"x":{"field":"xa","type":"quantitative","scale":{"domain":[-0.1135,3.7032],"nice":false,"zero":false},"axis":null},
"x2":{"field":"xb"},
"y":{"field":"y0","type":"quantitative","scale":{"domain":[-44.097,44.132],"reverse":true,"nice":false,"zero":false},"axis":null},
"y2":{"field":"y1"},
"color":{"field":"cat","type":"nominal","scale":{"domain":["General Eq.","Transport. Eq.","Electricity Supply","Construction","Transport. Svc.","Real Estate","Residential Svc.","Others","Export","2018–2030","After 2030"],"range":["#9b9a35","#c4964a","#c8bb45","#9c3035","#3a8ccb","#2f7b79","#c03482","#6a8e3c","#fb9d35","#8a3198","#c2eb80"]},"legend":null}}},
{"data":{"name":"nodesB"},
"transform":[{"filter":"datum.col=='ex' || datum.col=='fu'"},{"calculate":"datum.y0+datum.v/2-(length(split(datum.label,'\\n'))-1)*17/28.8","as":"ym"}],
"mark":{"type":"text","align":"left","baseline":"middle","dx":24,"fontSize":28,"lineBreak":"\n","lineHeight":34,"font":"Liberation Sans","color":"#111111"},
"encoding":{
"x":{"field":"x","type":"quantitative","scale":{"domain":[-0.1135,3.7032],"nice":false,"zero":false},"axis":null},
"y":{"field":"ym","type":"quantitative","scale":{"domain":[-44.097,44.132],"reverse":true,"nice":false,"zero":false},"axis":null},
"text":{"field":"label"}}},
{"data":{"name":"nodesB"},
"transform":[{"filter":"datum.col=='2' || datum.col=='gf'"},{"calculate":"isValid(datum.ly)?datum.ly:datum.y0+datum.v/2","as":"ym"}],
"mark":{"type":"text","align":"right","baseline":"middle","dx":-24,"fontSize":28,"lineBreak":"\n","lineHeight":34,"font":"Liberation Sans","color":"#111111"},
"encoding":{
"x":{"field":"x","type":"quantitative","scale":{"domain":[-0.1135,3.7032],"nice":false,"zero":false},"axis":null},
"y":{"field":"ym","type":"quantitative","scale":{"domain":[-44.097,44.132],"reverse":true,"nice":false,"zero":false},"axis":null},
"text":{"field":"label"}}},
{"data":{"name":"nodesB"},
"transform":[{"filter":"datum.col=='3'"},{"calculate":"datum.y0+datum.v/2","as":"ym"}],
"mark":{"type":"text","align":"right","baseline":"middle","dx":-34,"fontSize":28,"lineBreak":"\n","lineHeight":34,"font":"Liberation Sans","color":"#111111"},
"encoding":{
"x":{"field":"x","type":"quantitative","scale":{"domain":[-0.1135,3.7032],"nice":false,"zero":false},"axis":null},
"y":{"field":"ym","type":"quantitative","scale":{"domain":[-44.097,44.132],"reverse":true,"nice":false,"zero":false},"axis":null},
"text":{"field":"label"}}},
{"data":{"name":"nodesB"},
"transform":[{"filter":"datum.col=='fc'"},{"calculate":"isValid(datum.ly)?datum.ly:datum.y0+datum.v/2","as":"ym"}],
"mark":{"type":"text","align":"right","baseline":"middle","dx":-27,"fontSize":28,"lineBreak":"\n","lineHeight":34,"font":"Liberation Sans","color":"#111111"},
"encoding":{
"x":{"field":"x","type":"quantitative","scale":{"domain":[-0.1135,3.7032],"nice":false,"zero":false},"axis":null},
"y":{"field":"ym","type":"quantitative","scale":{"domain":[-44.097,44.132],"reverse":true,"nice":false,"zero":false},"axis":null},
"text":{"field":"label"}}},
{"data":{"name":"annB"},"transform":[{"filter":"datum.k=='c'"}],
"mark":{"type":"text","align":"center","baseline":"middle","fontSize":28,"lineBreak":"\n","lineHeight":34,"font":"Liberation Sans","color":"#111111"},
"encoding":{
"x":{"field":"x","type":"quantitative","scale":{"domain":[-0.1135,3.7032],"nice":false,"zero":false},"axis":null},
"y":{"field":"y","type":"quantitative","scale":{"domain":[-44.097,44.132],"reverse":true,"nice":false,"zero":false},"axis":null},
"text":{"field":"t"}}},
{"data":{"name":"annB"},"transform":[{"filter":"datum.k=='l'"}],
"mark":{"type":"text","align":"left","baseline":"middle","fontSize":28,"lineBreak":"\n","lineHeight":34,"font":"Liberation Sans","color":"#111111"},
"encoding":{
"x":{"field":"x","type":"quantitative","scale":{"domain":[-0.1135,3.7032],"nice":false,"zero":false},"axis":null},
"y":{"field":"y","type":"quantitative","scale":{"domain":[-44.097,44.132],"reverse":true,"nice":false,"zero":false},"axis":null},
"text":{"field":"t"}}},
{"data":{"name":"annB"},"transform":[{"filter":"datum.k=='li'"}],
"mark":{"type":"text","align":"left","baseline":"middle","fontSize":28,"fontStyle":"italic","font":"Liberation Sans","color":"#111111"},
"encoding":{
"x":{"field":"x","type":"quantitative","scale":{"domain":[-0.1135,3.7032],"nice":false,"zero":false},"axis":null},
"y":{"field":"y","type":"quantitative","scale":{"domain":[-44.097,44.132],"reverse":true,"nice":false,"zero":false},"axis":null},
"text":{"field":"t"}}},
{"data":{"name":"annB"},"transform":[{"filter":"datum.k=='sup'"}],
"mark":{"type":"text","align":"left","baseline":"middle","fontSize":18,"fontStyle":"italic","font":"Liberation Sans","color":"#111111"},
"encoding":{
"x":{"field":"x","type":"quantitative","scale":{"domain":[-0.1135,3.7032],"nice":false,"zero":false},"axis":null},
"y":{"field":"y","type":"quantitative","scale":{"domain":[-44.097,44.132],"reverse":true,"nice":false,"zero":false},"axis":null},
"text":{"field":"t"}}},
{"data":{"name":"annB"},"transform":[{"filter":"datum.k=='rot'"}],
"mark":{"type":"text","align":"center","baseline":"middle","angle":90,"fontSize":28,"font":"Liberation Sans","color":"#111111"},
"encoding":{
"x":{"field":"x","type":"quantitative","scale":{"domain":[-0.1135,3.7032],"nice":false,"zero":false},"axis":null},
"y":{"field":"y","type":"quantitative","scale":{"domain":[-44.097,44.132],"reverse":true,"nice":false,"zero":false},"axis":null},
"text":{"field":"t"}}},
{"data":{"name":"annB"},"transform":[{"filter":"datum.k=='b'"}],
"mark":{"type":"text","align":"left","baseline":"alphabetic","fontSize":26,"fontWeight":"bold","font":"Liberation Sans","color":"#000000"},
"encoding":{
"x":{"field":"x","type":"quantitative","scale":{"domain":[-0.1135,3.7032],"nice":false,"zero":false},"axis":null},
"y":{"field":"y","type":"quantitative","scale":{"domain":[-44.097,44.132],"reverse":true,"nice":false,"zero":false},"axis":null},
"text":{"field":"t"}}},
{"data":{"name":"brB"},"mark":{"type":"rule","color":"#000000","strokeWidth":3.5,"strokeCap":"square"},
"encoding":{
"x":{"field":"x","type":"quantitative","scale":{"domain":[-0.1135,3.7032],"nice":false,"zero":false},"axis":null},
"x2":{"field":"x2"},
"y":{"field":"y","type":"quantitative","scale":{"domain":[-44.097,44.132],"reverse":true,"nice":false,"zero":false},"axis":null},
"y2":{"field":"y2"}}},
{"data":{"name":"legB"},"mark":{"type":"rect","color":"#dfe6ee"},
"encoding":{
"x":{"field":"x","type":"quantitative","scale":{"domain":[-0.1135,3.7032],"nice":false,"zero":false},"axis":null},
"x2":{"field":"x2"},
"y":{"field":"y","type":"quantitative","scale":{"domain":[-44.097,44.132],"reverse":true,"nice":false,"zero":false},"axis":null},
"y2":{"field":"y2"}}}
]}
]
}
